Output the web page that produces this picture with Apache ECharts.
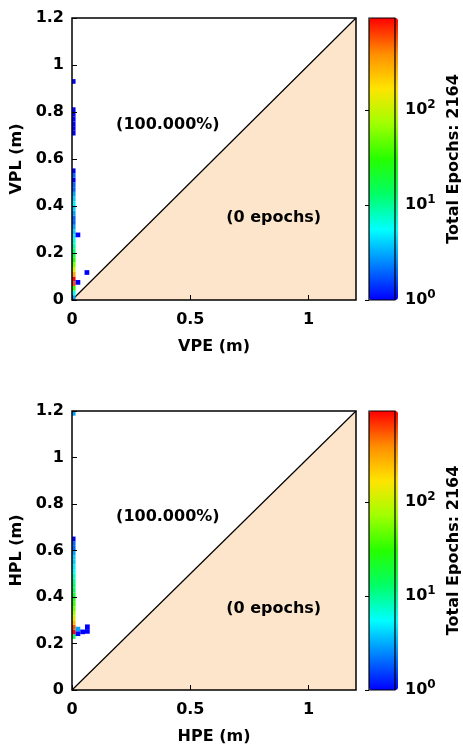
<!DOCTYPE html>
<html><head><meta charset="utf-8">
<script src="https://cdn.jsdelivr.net/npm/echarts@6/dist/echarts.min.js"></script>
<style>html,body{margin:0;padding:0;background:#fff}#c{width:463px;height:747px}</style>
</head><body><div id="c"></div><script>
// ---- data ----
const binSize = 0.02;
// top panel: VPE vs VPL cells (bin centres, counts)
const vX = [0.005,0.005,0.005,0.005,0.005,0.005,0.005,0.005,0.005,0.005,0.005,0.005,0.005,0.005,0.005,0.005,0.005,0.005,0.005,0.005,0.005,0.005,0.005,0.005,0.005,0.005,0.005,0.005,0.005,0.005,0.005,0.005,0.005,0.005,0.005,0.025,0.063,0.025];
const vY = [0.01,0.03,0.05,0.07,0.09,0.11,0.13,0.15,0.17,0.19,0.21,0.23,0.25,0.27,0.29,0.31,0.33,0.35,0.37,0.39,0.41,0.43,0.45,0.47,0.49,0.51,0.53,0.55,0.71,0.73,0.75,0.77,0.79,0.81,0.93,0.277,0.117,0.075];
const vCount = [3,6,31,600,930,300,110,55,30,18,12,9,7,5,4,3,2,2,3,4,5,4,3,2,2,1,2,1,1,1,1,1,1,1,1,1,1,1];
// bottom panel: HPE vs HPL cells
const hX = [0.005,0.005,0.005,0.005,0.005,0.005,0.005,0.005,0.005,0.005,0.005,0.005,0.005,0.005,0.005,0.005,0.005,0.005,0.005,0.005,0.005,0.005,0.005,0.025,0.025,0.045,0.065,0.065];
const hY = [0.23,0.25,0.27,0.29,0.31,0.33,0.35,0.37,0.39,0.41,0.43,0.45,0.47,0.49,0.51,0.53,0.55,0.57,0.59,0.61,0.63,0.65,1.19,0.262,0.242,0.25,0.272,0.252];
const hCount = [15,930,560,250,120,80,50,35,25,18,14,12,10,8,6,5,4,4,3,2,2,1,3,3,1,1,1,1];
const totalEpochs = [2164, 2164];
const xTicks = [0, 0.5, 1];
const yTicks = [0, 0.2, 0.4, 0.6, 0.8, 1, 1.2];
const axisMax = 1.2;
const topNotes = [{name:'(100.000%)', value:[0.405, 0.745]}, {name:'(0 epochs)', value:[0.852, 0.349]}];
const botNotes = [{name:'(100.000%)', value:[0.405, 0.745]}, {name:'(0 epochs)', value:[0.852, 0.349]}];
const diagonal = [[0, 0], [1.2, 1.2]];

// ---- chart ----
const FONT = 'DejaVu Sans';
const maxCount = Math.max(...vCount, ...hCount);
const logMax = Math.log10(maxCount);
const jet = ['#0000ff','#0080ff','#00ffff','#00ff66','#26ff00','#a0ff00','#ffe400','#ff8c00','#ff0000'];

function cells(xs, ys, cs){ return xs.map((x,i)=>[x, ys[i], Math.log10(cs[i])]); }

function renderCell(params, api){
  const x = api.value(0), y = api.value(1);
  const p0 = api.coord([x - binSize/2, y + binSize/2]);
  const p1 = api.coord([x + binSize/2, y - binSize/2]);
  const cs = params.coordSys;
  const r = echarts.graphic.clipRectByRect(
    {x:p0[0], y:p0[1], width:p1[0]-p0[0], height:p1[1]-p0[1]},
    {x:cs.x, y:cs.y, width:cs.width, height:cs.height});
  return r && {type:'rect', shape:r, style:{fill: api.visual('color')}};
}

const panels = [
  {top:18, height:282, xName:'VPE (m)', yName:'VPL (m)', data:cells(vX,vY,vCount), notes:topNotes, total: totalEpochs[0]},
  {top:411, height:279, xName:'HPE (m)', yName:'HPL (m)', data:cells(hX,hY,hCount), notes:botNotes, total: totalEpochs[1]}
];
const lbl = {fontFamily:FONT, fontWeight:'bold', fontSize:16, color:'#000'};

const grid=[], xAxis=[], yAxis=[], series=[], visualMap=[];
panels.forEach((p, k)=>{
  grid.push({left:72, top:p.top, width:284, height:p.height, show:true, borderColor:'#000', borderWidth:1.5, backgroundColor:'transparent', z:10});
  xAxis.push({type:'value', gridIndex:k, min:0, max:axisMax, interval:0.5, splitLine:{show:false},
    axisLine:{show:false}, axisTick:{inside:true, length:5, lineStyle:{color:'#000', width:1}},
    axisLabel:Object.assign({margin:12, showMaxLabel:false, formatter:v=>xTicks.includes(v)?String(v):''}, lbl),
    name:p.xName, nameLocation:'middle', nameGap:39, nameTextStyle:lbl, z:10});
  yAxis.push({type:'value', gridIndex:k, min:0, max:axisMax, interval:0.2, splitLine:{show:false},
    axisLine:{show:false}, axisTick:{inside:true, length:5, lineStyle:{color:'#000', width:1}},
    axisLabel:Object.assign({margin:8, formatter:v=>String(Math.round(v*10)/10)}, lbl),
    name:p.yName, nameLocation:'middle', nameGap:44, nameRotate:90, nameTextStyle:lbl, z:10});
});
panels.forEach((p, k)=>{
  // colorbar frame/axis
  grid.push({left:369, top:p.top, width:29, height:p.height, show:true, borderColor:'#000', borderWidth:1.2, backgroundColor:'transparent', z:10});
  xAxis.push({type:'value', gridIndex:2+k, show:false, min:0, max:1});
  yAxis.push({type:'value', gridIndex:2+k, position:'right', min:0, max:logMax, interval:1, splitLine:{show:false},
    axisLine:{show:false}, axisTick:{inside:true, length:4, lineStyle:{color:'#000'}},
    axisLabel:Object.assign({margin:10, showMaxLabel:false,
      formatter:v=>Number.isInteger(v)?'10{s|'+v+'}':'',
      rich:{s:{fontFamily:FONT, fontWeight:'bold', fontSize:12, color:'#000', padding:[0,0,10,0]}}}, lbl),
    name:'Total Epochs: '+p.total, nameLocation:'middle', nameGap:51, nameRotate:90, nameTextStyle:lbl, z:10});
});
panels.forEach((p, k)=>{
  series.push({type:'line', xAxisIndex:k, yAxisIndex:k, data:diagonal, symbol:'none', silent:true,
    lineStyle:{color:'#000', width:1.2}, areaStyle:{color:'#FDE5CB', opacity:1}, z:1});
  series.push({type:'custom', xAxisIndex:k, yAxisIndex:k, renderItem:renderCell, data:p.data,
    encode:{x:0, y:1}, z:3});
  series.push({type:'scatter', xAxisIndex:k, yAxisIndex:k, symbolSize:0, data:p.notes, silent:true,
    itemStyle:{opacity:1},
    label:Object.assign({show:true, position:'inside', formatter:'{b}', opacity:1, textBorderWidth:0}, lbl), z:5});
  visualMap.push({type:'continuous', seriesIndex:3*k+1, dimension:2, min:0, max:logMax,
    inRange:{color:jet}, orient:'vertical', left:369, top:p.top, itemWidth:29, itemHeight:p.height,
    calculable:false, padding:0, text:null, z:4});
});

const chart = echarts.init(document.getElementById('c'), null, {renderer:'canvas'});
chart.setOption({animation:false, backgroundColor:'#fff', grid, xAxis, yAxis, series, visualMap});
</script></body></html>
